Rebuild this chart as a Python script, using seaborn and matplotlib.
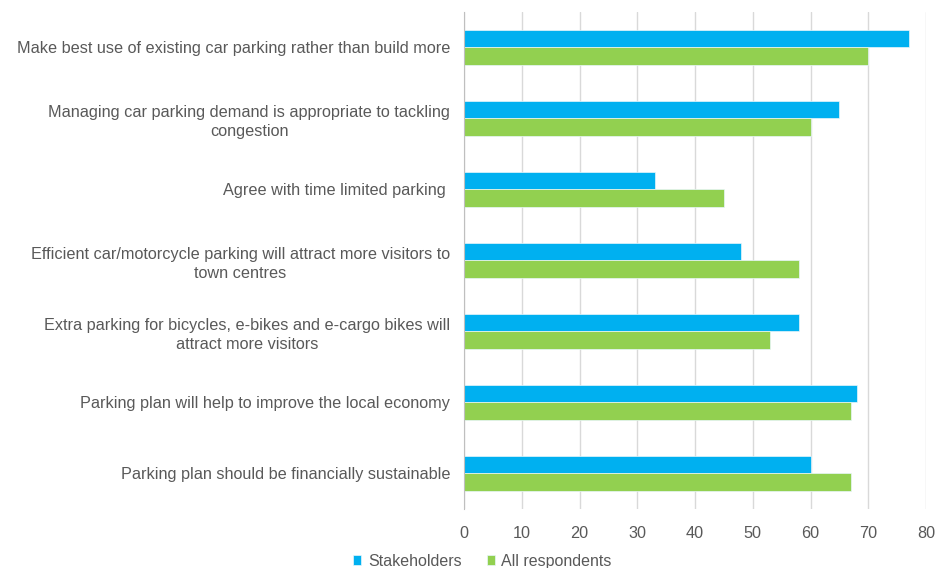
import pandas as pd
import seaborn as sns
import matplotlib.pyplot as plt

categories = [
    "Make best use of existing car parking rather than build more",
    "Managing car parking demand is appropriate to tackling\ncongestion",
    "Agree with time limited parking ",
    "Efficient car/motorcycle parking will attract more visitors to\ntown centres",
    "Extra parking for bicycles, e-bikes and e-cargo bikes will\nattract more visitors",
    "Parking plan will help to improve the local economy",
    "Parking plan should be financially sustainable",
]
stakeholders = [77, 65, 33, 48, 58, 68, 60]
all_respondents = [70, 60, 45, 58, 53, 67, 67]
series_names = ["Stakeholders", "All respondents"]

df = pd.DataFrame({
    "statement": categories * 2,
    "value": stakeholders + all_respondents,
    "group": [series_names[0]] * len(categories) + [series_names[1]] * len(categories),
})

sns.set_style("white")
plt.rcParams["font.family"] = ["Liberation Sans", "DejaVu Sans"]

fig = plt.figure(figsize=(9.37, 5.68), dpi=100)
ax = fig.add_axes([0.4952, 0.104, 0.4931, 0.875])

sns.barplot(data=df, y="statement", x="value", hue="group", orient="h",
            palette=["#00B0F0", "#92D050"], saturation=1, width=0.5, ax=ax,
            edgecolor="#e8f6fb", linewidth=0.5, legend=True)

ax.set_xlim(0, 80)
ax.set_xticks(range(0, 81, 10))
ax.set_xlabel("")
ax.set_ylabel("")
ax.grid(axis="x", color="#d9d9d9", linewidth=1)
ax.set_axisbelow(True)
for s in ["top", "right", "bottom"]:
    ax.spines[s].set_visible(False)
ax.spines["left"].set_color("#bfbfbf")
ax.tick_params(axis="x", colors="#595959", labelsize=11.7, length=0, pad=12)
ax.tick_params(axis="y", colors="#595959", labelsize=11.7, length=0, pad=10)
for lbl in ax.get_yticklabels():
    lbl.set_multialignment("center")
    lbl.set_linespacing(1.3)

handles, labels = ax.get_legend_handles_labels()
ax.get_legend().remove()
fig.legend(handles, labels, loc="center", bbox_to_anchor=(0.515, 0.012),
           ncol=2, frameon=False, fontsize=11.5, handlelength=0.5,
           handleheight=0.5, handletextpad=0.4, columnspacing=1.6,
           labelcolor="#595959")

fig.savefig("out.png", dpi=100)
